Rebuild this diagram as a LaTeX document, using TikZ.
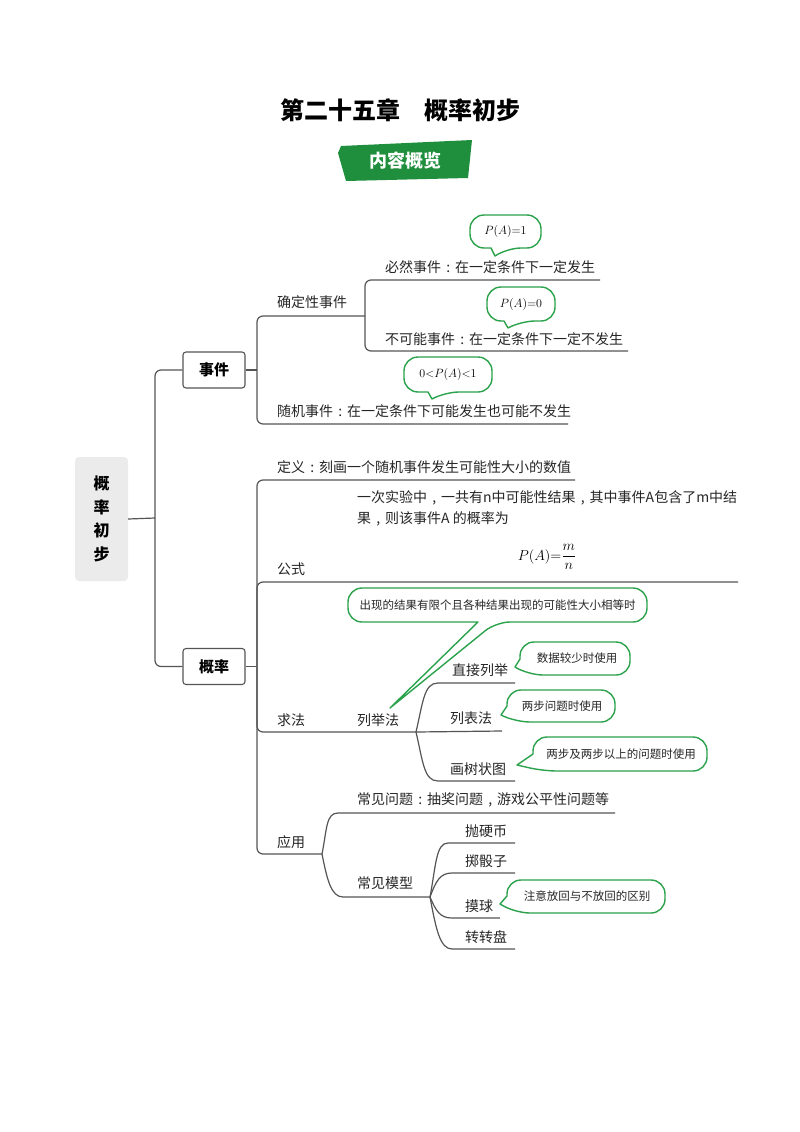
\documentclass[tikz,border=0pt]{standalone}
\usepackage{fontspec}
\setmainfont{Noto Sans CJK SC}
\usetikzlibrary{calc}
\definecolor{lc}{HTML}{555555}
\definecolor{cg}{HTML}{2BA24C}
\definecolor{bng}{HTML}{1F8E3D}
\definecolor{rg}{HTML}{EBEBEB}
\newcommand{\qcolon}{\makebox[1em][c]{:}}
\newcommand{\qcomma}{\makebox[1em][c]{,}}
\tikzset{
  conn/.style={draw=lc, line width=1.2pt},
  elbow/.style={conn, rounded corners=6},
  bubble/.style={draw=cg, line width=1.4pt, fill=white, line join=round},
  lab/.style={anchor=west, inner sep=0pt, font=\fontsize{14}{16}\selectfont, text=black!85},
  ctext/.style={inner sep=0pt, font=\fontsize{11.5}{13}\selectfont, text=black!85},
  mtext/.style={inner sep=0pt, font=\fontsize{12}{14}\selectfont},
  boxnode/.style={draw=lc, line width=1.1pt, rounded corners=3, minimum width=62pt, minimum height=36pt, inner sep=0pt, font=\fontsize{15}{17}\selectfont\bfseries},
}
% bottom-tailed bubble: L T R B bx1 bx2 tipx tipy
\newcommand{\bubB}[8]{%
  \draw[bubble] (#5,#4) [rounded corners=14] -- (#1,#4) -- (#1,#2) -- (#3,#2) -- (#3,#4) -- (#6,#4) [sharp corners] -- (#7,#8) -- cycle;}
% left-tailed bubble: L T R B ly bx tipx tipy
\newcommand{\bubL}[8]{%
  \draw[bubble] (#1,#5) [rounded corners=14] -- (#1,#2) -- (#3,#2) -- (#3,#4) -- (#6,#4) [sharp corners] -- (#7,#8) -- cycle;}
\begin{document}
\begin{tikzpicture}[x=1pt,y=-1pt]
\useasboundingbox (0,0) rectangle (800,1132);
\fill[white] (0,0) rectangle (800,1132);

% title and banner
\node[font=\fontsize{24}{28}\selectfont\bfseries] (title) at (400,110) {第二十五章　概率初步};
\fill[bng] (341,146) -- (472,140) -- (468,178) -- (346,181) -- (338,153) -- cycle;
\node[font=\fontsize{18}{20}\selectfont\bfseries, text=white] (banner) at (405,161) {内容概览};

% root
\node[fill=rg, rounded corners=4, minimum width=53pt, minimum height=124pt, inner sep=0pt, align=center,
      font=\fontsize{16}{23.5}\selectfont\bfseries] (root) at (101.5,519) {概\\率\\初\\步};
\coordinate (f0) at (155,518);
\draw[conn] (root.east) -- (f0);

\node[boxnode] (sj) at (214,370) {事件};
\node[boxnode] (gl) at (214,666.5) {概率};
\draw[elbow] (f0) |- (sj.west);
\draw[elbow] (f0) |- (gl.west);

% ---- 事件 ----
\coordinate (f1) at (257,370);
\draw[conn] (sj.east) -- (f1);
\coordinate (qdxe) at (365,316);
\coordinate (bire) at (600,280);
\coordinate (bkne) at (628,351);
\coordinate (sjsje) at (568,424);
\draw[elbow] (f1) |- (qdxe);
\draw[elbow] (f1) |- (sjsje);
\draw[elbow] (qdxe) |- (bire);
\draw[elbow] (qdxe) |- (bkne);

\node[lab] (qdx) at (277,302) {确定性事件};
\node[lab] (bir) at (385,267) {必然事件\qcolon 在一定条件下一定发生};
\node[lab] (bkn) at (385,339) {不可能事件\qcolon 在一定条件下一定不发生};
\node[lab] (sjsj) at (277,411) {随机事件\qcolon 在一定条件下可能发生也可能不发生};

\bubB{470}{215}{541}{248}{491}{507}{495}{256}
\node[mtext] (c1) at (505.5,231.5) {$P(A){=}1$};
\bubB{487}{287}{555}{321}{504}{521}{508}{328}
\node[mtext] (c2) at (521,304) {$P(A){=}0$};
\bubB{404}{357}{492}{392}{428}{445}{432}{399}
\node[mtext] (c3) at (448,374.5) {$0{<}P(A){<}1$};

% ---- 概率 ----
\coordinate (f2) at (257,666.5);
\draw[conn] (gl.east) -- (f2);
\coordinate (dye) at (575,480);
\coordinate (gse) at (738,582);
\coordinate (f3) at (416,732);
\coordinate (f4) at (322,854);
\draw[elbow] (f2) |- (dye);
\draw[elbow] (f2) |- (gse);
\draw[elbow] (f2) |- (f3);
\draw[elbow] (f2) |- (f4);

\node[lab] (dy) at (277,467) {定义\qcolon 刻画一个随机事件发生可能性大小的数值};
\node[lab] (gs) at (277,569) {公式};
\node[lab] (gst1) at (357,498) {一次实验中\qcomma 一共有n中可能性结果\qcomma 其中事件A包含了m中结};
\node[lab] (gst2) at (357,519) {果\qcomma 则该事件A 的概率为};
\node[inner sep=0pt, font=\fontsize{15}{18}\selectfont] (frm) at (547,557) {$P(A){=}\displaystyle\frac{m}{n}$};

% 求法
\node[lab] (qf) at (277,720) {求法};
\node[lab] (ljf) at (357,720) {列举法};
\coordinate (zjs) at (438,683);
\coordinate (zje) at (515,683);
\coordinate (lbe) at (502,731);
\coordinate (hss) at (438,781);
\coordinate (hse) at (515,781);
\draw[conn] (f3) .. controls +(7,-30) and +(-14,0) .. (zjs) -- (zje);
\draw[conn] (f3) -- (lbe);
\draw[conn] (f3) .. controls +(7,30) and +(-14,0) .. (hss) -- (hse);
\node[lab] (zjlj) at (452,670) {直接列举};
\node[lab] (lbf) at (450,718) {列表法};
\node[lab] (hsz) at (450,769) {画树状图};

\bubB{348}{588}{647}{622}{478}{496}{390}{708}
\node[ctext] (c4) at (497.5,605) {出现的结果有限个且各种结果出现的可能性大小相等时};
\bubL{520}{642}{630}{675}{659}{529}{515}{667}
\node[ctext] (c5) at (577,658.5) {数据较少时使用};
\bubL{507}{690}{615}{722}{706}{516}{501}{715}
\node[ctext] (c6) at (562,706) {两步问题时使用};
\bubL{533}{737}{707}{771}{754}{543}{517}{765}
\node[ctext] (c7) at (621,754) {两步及两步以上的问题时使用};

% 应用
\node[lab] (yy) at (277,842) {应用};
\coordinate (cjws) at (338,813);
\coordinate (cjwe) at (615,813);
\coordinate (cjms) at (343,897);
\coordinate (f5) at (430,897);
\draw[conn] (f4) .. controls +(5,-25) and +(-12,0) .. (cjws) -- (cjwe);
\draw[conn] (f4) .. controls +(5,25) and +(-12,0) .. (cjms) -- (f5);
\node[lab] (cjwt) at (357,800) {常见问题\qcolon 抽奖问题\qcomma 游戏公平性问题等};
\node[lab] (cjmx) at (357,883) {常见模型};

\coordinate (p1s) at (448,843) ; \coordinate (p1e) at (515,843);
\coordinate (p2s) at (452,873) ; \coordinate (p2e) at (515,873);
\coordinate (p3s) at (452,918) ; \coordinate (p3e) at (500,918);
\coordinate (p4s) at (452,949) ; \coordinate (p4e) at (515,949);
\draw[conn] (f5) .. controls +(6,-32) and +(-12,0) .. (p1s) -- (p1e);
\draw[conn] (f5) .. controls +(6,-16) and +(-12,0) .. (p2s) -- (p2e);
\draw[conn] (f5) .. controls +(6,14) and +(-12,0) .. (p3s) -- (p3e);
\draw[conn] (f5) .. controls +(6,32) and +(-12,0) .. (p4s) -- (p4e);
\node[lab] (pyb) at (465,831) {抛硬币};
\node[lab] (zsz) at (465,861) {掷骰子};
\node[lab] (mq) at (465,906) {摸球};
\node[lab] (zzp) at (465,937) {转转盘};

\bubL{507}{880}{665}{913}{896}{516}{500}{904}
\node[ctext] (c8) at (587,896.5) {注意放回与不放回的区别};
\end{tikzpicture}
\end{document}
